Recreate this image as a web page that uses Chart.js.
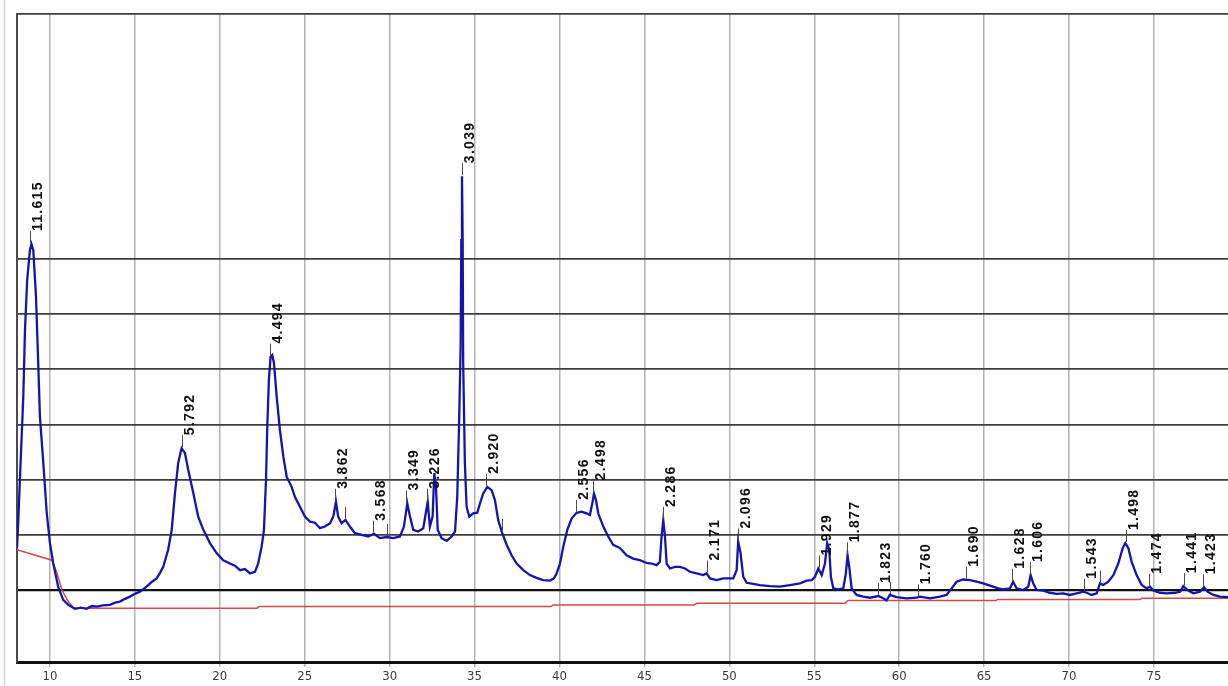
<!DOCTYPE html>
<html>
<head>
<meta charset="utf-8">
<script src="https://cdn.jsdelivr.net/npm/chart.js@4.4.1/dist/chart.umd.min.js"></script>
<style>
  html, body { margin: 0; padding: 0; background: #fff; }
  #wrap { width: 1228px; height: 686px; position: relative; }
</style>
</head>
<body>
<div id="wrap"><canvas id="xrd"></canvas></div>
<script>
// Co K-alpha scan, 2-theta (deg) against counts
var scanAngle = [
  8.06, 8.13, 8.23, 8.43, 8.53, 8.66, 8.82, 8.91, 9.02, 9.18, 9.31, 9.41, 9.61, 9.81, 10.00,
  10.19, 10.49, 10.78, 11.08, 11.47, 11.83, 12.16, 12.47, 12.75, 13.12, 13.53, 13.83, 14.12, 14.42, 14.71,
  15.00, 15.30, 15.69, 16.01, 16.28, 16.48, 16.67, 16.96, 17.17, 17.36, 17.55, 17.75, 17.95, 18.14, 18.44,
  18.73, 19.03, 19.42, 19.81, 20.20, 20.60, 20.89, 21.19, 21.48, 21.78, 22.07, 22.26, 22.46, 22.60, 22.72,
  22.79, 22.89, 22.99, 23.09, 23.19, 23.35, 23.54, 23.74, 23.94, 24.23, 24.42, 24.72, 25.01, 25.31, 25.60,
  25.90, 26.19, 26.49, 26.68, 26.84, 26.97, 27.17, 27.40, 27.66, 27.96, 28.35, 28.74, 29.08, 29.43, 29.82,
  30.21, 30.61, 30.84, 31.04, 31.20, 31.39, 31.68, 31.98, 32.24, 32.37, 32.53, 32.63, 32.73, 32.83, 33.06,
  33.36, 33.65, 33.85, 33.98, 34.08, 34.18, 34.22, 34.26, 34.30, 34.33, 34.43, 34.53, 34.69, 34.92, 35.16,
  35.32, 35.51, 35.75, 36.00, 36.20, 36.39, 36.61, 36.89, 37.18, 37.48, 37.87, 38.26, 38.65, 39.04, 39.44,
  39.67, 39.83, 40.03, 40.22, 40.46, 40.72, 41.01, 41.30, 41.60, 41.79, 41.95, 42.03, 42.15, 42.28, 42.58,
  42.87, 43.16, 43.56, 43.95, 44.34, 44.73, 45.13, 45.42, 45.72, 45.91, 46.01, 46.11, 46.21, 46.31, 46.50,
  46.80, 47.09, 47.39, 47.68, 48.07, 48.46, 48.66, 48.86, 49.25, 49.64, 50.23, 50.43, 50.52, 50.66, 50.82,
  51.02, 51.41, 51.80, 52.39, 52.98, 53.57, 54.16, 54.55, 54.85, 55.04, 55.24, 55.44, 55.63, 55.76, 55.88,
  55.98, 56.12, 56.41, 56.71, 56.86, 56.96, 57.06, 57.20, 57.49, 57.88, 58.28, 58.77, 59.06, 59.26, 59.45,
  59.85, 60.44, 61.03, 61.22, 61.81, 62.40, 62.79, 63.09, 63.38, 63.77, 64.17, 64.56, 64.95, 65.44, 65.83,
  66.12, 66.52, 66.71, 66.91, 67.30, 67.60, 67.74, 67.89, 68.09, 68.48, 68.87, 69.27, 69.66, 70.05, 70.45,
  70.84, 71.04, 71.33, 71.63, 71.82, 72.02, 72.31, 72.61, 72.90, 73.16, 73.31, 73.49, 73.69, 73.98, 74.28,
  74.57, 74.77, 74.96, 75.36, 75.75, 76.24, 76.54, 76.73, 76.97, 77.32, 77.71, 77.95, 78.15, 78.50, 78.89,
  79.36
];
var scanCounts = [
  76, 121, 199, 350, 471, 562, 616, 627, 616, 531, 411, 314, 230, 140, 85,
  49, 5, -18, -27, -34, -32, -34, -29, -30, -28, -27, -23, -21, -16, -12,
  -7, -3, 6, 15, 21, 31, 42, 73, 109, 175, 230, 257, 248, 218, 176,
  133, 109, 85, 67, 54, 48, 44, 36, 38, 30, 33, 48, 78, 109, 199,
  290, 381, 423, 426, 411, 350, 290, 242, 205, 187, 169, 151, 133, 124, 122,
  112, 115, 121, 133, 160, 133, 121, 127, 115, 103, 100, 97, 102, 94, 96,
  94, 97, 115, 157, 133, 109, 106, 112, 160, 115, 133, 212, 187, 109, 94,
  89, 97, 106, 169, 290, 441, 634, 750, 634, 411, 230, 151, 133, 139, 140,
  157, 175, 187, 181, 163, 127, 105, 82, 63, 48, 36, 27, 22, 18, 17,
  21, 30, 48, 78, 109, 130, 140, 142, 139, 136, 160, 175, 163, 139, 115,
  97, 82, 76, 63, 57, 54, 49, 48, 45, 51, 97, 127, 97, 48, 39,
  42, 42, 39, 33, 30, 27, 30, 21, 18, 21, 21, 36, 88, 67, 24,
  13, 11, 9, 7, 6, 9, 12, 17, 18, 24, 39, 27, 48, 85, 73,
  24, 3, 1, 3, 30, 63, 42, 3, -9, -12, -14, -11, -15, -19, -9,
  -13, -15, -14, -12, -15, -12, -9, 3, 15, 19, 18, 15, 12, 7, 3,
  1, 3, 15, 3, 0, 6, 27, 12, 0, -1, -5, -7, -6, -9, -6,
  -3, -5, -9, -6, 12, 9, 15, 27, 48, 76, 85, 76, 51, 27, 9,
  3, 6, -1, -5, -6, -5, -3, 7, 0, -6, -3, 5, -3, -9, -12,
  -13
];

// fitted background
var baseAngle = [8.06, 10.12, 10.41, 10.71, 11.06, 11.41, 22.19, 22.31, 39.50, 39.62, 47.92, 48.09,
  56.81, 56.99, 65.70, 65.81, 74.17, 74.29, 79.36];
var baseCounts = [73, 54, 31, 0, -20, -33, -33, -30, -30, -27, -27, -24,
  -24, -19, -19, -17, -17, -15, -15];

// d-spacings (angstrom) of the labelled peaks
var peakD = [11.615, 5.792, 4.494, 3.862, 3.568, 3.349, 3.226, 3.039, 2.920, 2.556, 2.498,
  2.286, 2.171, 2.096, 1.929, 1.877, 1.823, 1.760, 1.690, 1.628, 1.606, 1.543, 1.498,
  1.474, 1.441, 1.423];
// peak markers with no label
var markerAngle = [27.37, 29.82, 36.61, 59.45, 71.82];

var xTicks = [10, 15, 20, 25, 30, 35, 40, 45, 50, 55, 60, 65, 70, 75];
var yLines = [0, 100, 200, 300, 400, 500, 600];

var LAMBDA = 1.78897; // Co K-alpha1
var X_MIN = 8.06, X_MAX = 79.36, Y_MIN = -130.5, Y_MAX = 1044;

function toPoints(xs, ys) {
  return xs.map(function (x, i) { return { x: x, y: ys[i] }; });
}

function braggAngle(d) {
  return 2 * Math.asin(LAMBDA / (2 * d)) * 180 / Math.PI;
}

// highest point of the scan close to a given angle
function scanHeight(angle) {
  var best = -Infinity;
  for (var i = 0; i < scanAngle.length; i++) {
    if (Math.abs(scanAngle[i] - angle) <= 0.1) best = Math.max(best, scanCounts[i]);
    if (i > 0 && scanAngle[i - 1] <= angle && scanAngle[i] >= angle) {
      var t = (angle - scanAngle[i - 1]) / (scanAngle[i] - scanAngle[i - 1]);
      best = Math.max(best, scanCounts[i - 1] + t * (scanCounts[i] - scanCounts[i - 1]));
    }
  }
  return best;
}

var peakMarks = {
  id: "peakMarks",
  afterDatasetsDraw: function (chart) {
    var ctx = chart.ctx;
    var xs = chart.scales.x, ys = chart.scales.y;
    ctx.save();
    ctx.strokeStyle = "#4a4a4a";
    ctx.lineWidth = 1;
    ctx.fillStyle = "#111";
    ctx.font = "bold 14px 'Liberation Sans', Arial, sans-serif";
    ctx.letterSpacing = "1.3px";
    ctx.textBaseline = "top";
    ctx.textAlign = "left";

    function mark(angle, text) {
      var px = Math.round(xs.getPixelForValue(angle)) + 0.5;
      var py = ys.getPixelForValue(scanHeight(angle));
      ctx.beginPath();
      ctx.moveTo(px, py - 1);
      ctx.lineTo(px, py - 13);
      ctx.stroke();
      if (text) {
        ctx.save();
        ctx.translate(px + 1, py - 13);
        ctx.rotate(-Math.PI / 2);
        ctx.fillText(text, 0, 0);
        ctx.restore();
      }
    }
    peakD.forEach(function (d) { mark(braggAngle(d), d.toFixed(3)); });
    markerAngle.forEach(function (a) { mark(a, null); });
    ctx.restore();
  }
};

// thin frame line at the far left of the page
var pageEdge = {
  id: "pageEdge",
  beforeDraw: function (chart) {
    var ctx = chart.ctx;
    ctx.save();
    ctx.strokeStyle = "#d8d8d8";
    ctx.lineWidth = 1.5;
    ctx.beginPath();
    ctx.moveTo(4.5, 0);
    ctx.lineTo(4.5, chart.height);
    ctx.stroke();
    ctx.restore();
  }
};

var ctx = document.getElementById("xrd").getContext("2d");
var xrdChart = new Chart(ctx, {
  type: "line",
  data: {
    datasets: [
      {
        label: "scan",
        data: toPoints(scanAngle, scanCounts),
        borderColor: "#1515ad",
        borderWidth: 2.3,
        pointRadius: 0,
        tension: 0
      },
      {
        label: "background",
        data: toPoints(baseAngle, baseCounts),
        borderColor: "#d24a4a",
        borderWidth: 1.5,
        pointRadius: 0,
        tension: 0
      }
    ]
  },
  options: {
    animation: false,
    responsive: true,
    maintainAspectRatio: false,
    layout: { padding: { left: 17, top: 14, right: 0, bottom: 0 } },
    plugins: {
      legend: { display: false },
      tooltip: { enabled: false }
    },
    scales: {
      x: {
        type: "linear",
        min: X_MIN,
        max: X_MAX,
        afterBuildTicks: function (scale) {
          scale.ticks = xTicks.map(function (v) { return { value: v }; });
        },
        afterFit: function (scale) { scale.height = 24; },
        grid: { color: "#b2b2b2", lineWidth: 1.5, tickLength: 5 },
        border: { color: "#111", width: 3 },
        ticks: {
          color: "#3a3a3a",
          padding: 2,
          maxRotation: 0,
          font: { family: "'Liberation Sans Narrow', 'DejaVu Sans Condensed', 'Arial Narrow', sans-serif", size: 13 }
        }
      },
      y: {
        min: Y_MIN,
        max: Y_MAX,
        afterBuildTicks: function (scale) {
          scale.ticks = yLines.concat([Y_MAX]).map(function (v) { return { value: v }; });
        },
        afterFit: function (scale) { scale.width = 0; },
        grid: {
          drawTicks: false,
          color: function (c) { return c.tick && c.tick.value === 0 ? "#111" : "#3e3e3e"; },
          lineWidth: function (c) { return c.tick && c.tick.value === 0 ? 2.2 : 1.8; }
        },
        border: { color: "#4a4a4a", width: 2 },
        ticks: { display: false }
      }
    }
  },
  plugins: [peakMarks, pageEdge]
});
</script>
</body>
</html>
